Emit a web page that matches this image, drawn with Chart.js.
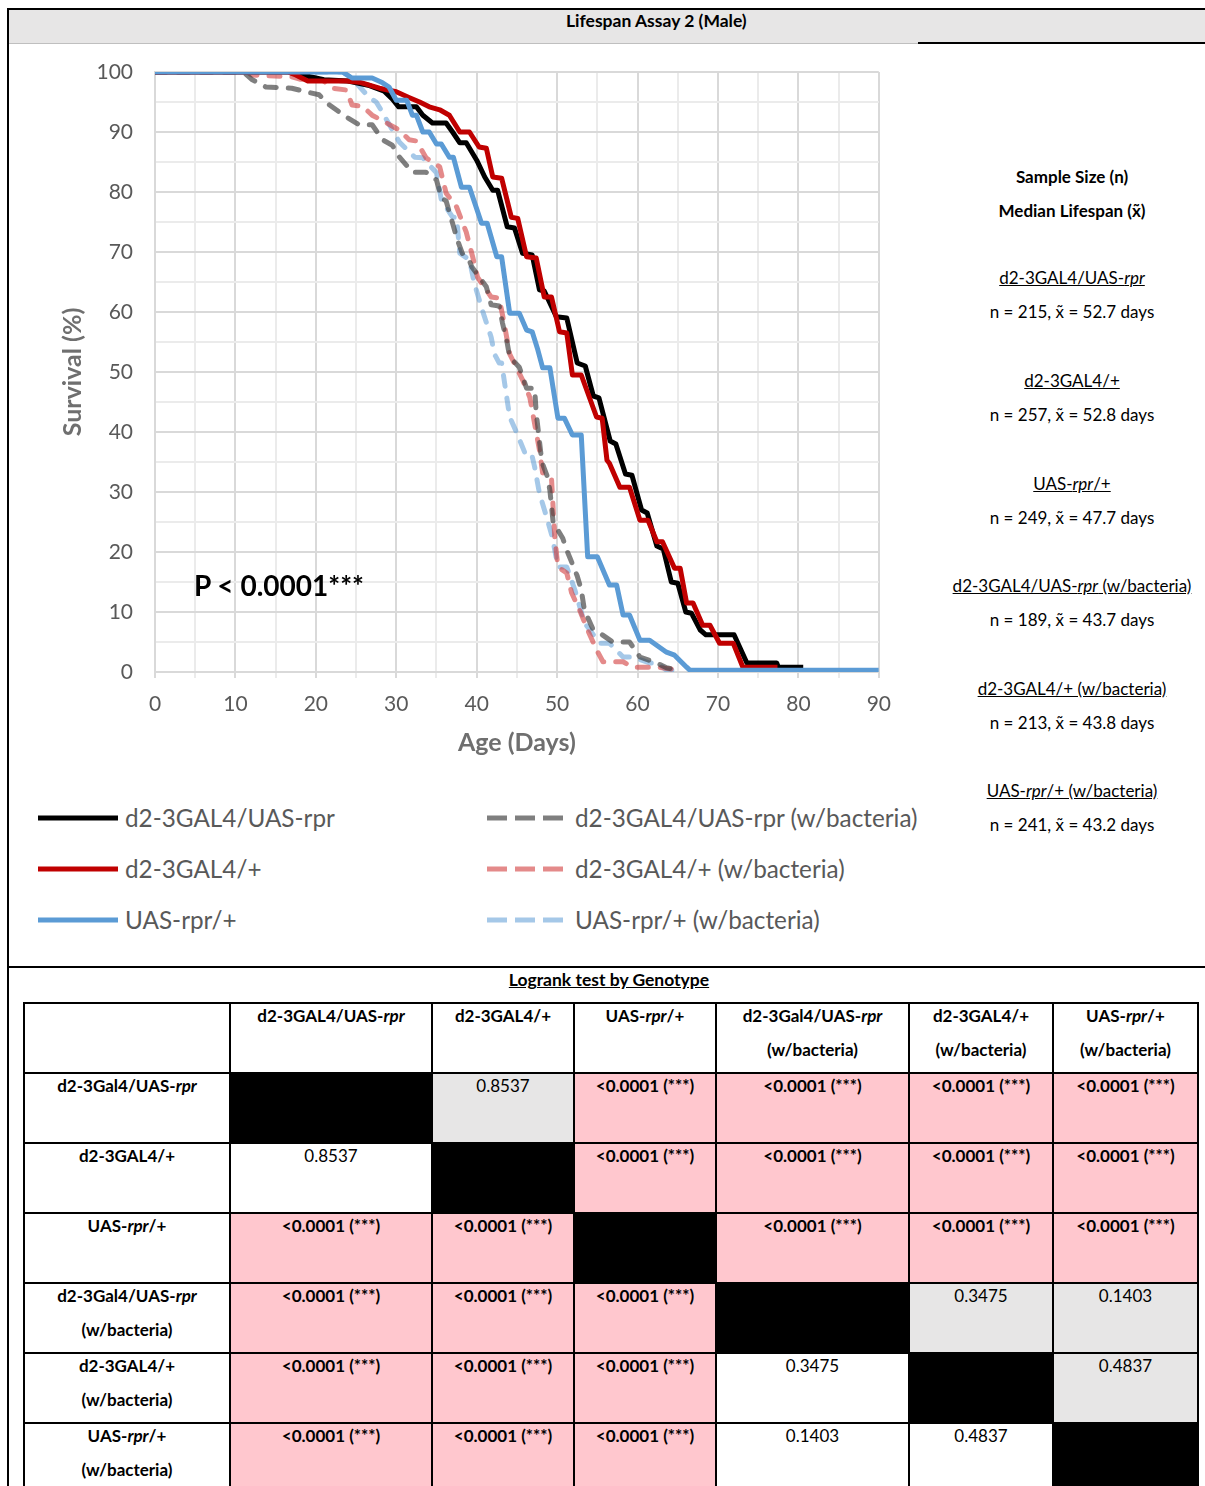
<!DOCTYPE html>
<html><head><meta charset="utf-8">
<script src="https://cdn.jsdelivr.net/npm/chart.js@4.4.1/dist/chart.umd.min.js"></script>
<style>
body{margin:0;width:1205px;height:1486px;overflow:hidden;background:#fff;font-family:Lato,'Open Sans',sans-serif;position:relative;color:#000}
.abs{position:absolute}
#band{left:8px;top:8px;width:1197px;height:35px;background:#e7e6e6;border-top:2px solid #000;box-sizing:border-box}
#bandTitle{left:566px;top:10px;font-weight:bold;font-size:17.5px;line-height:22px;white-space:nowrap}
.rtxt{width:260px;left:942px;text-align:center;font-size:17px;line-height:22px;white-space:nowrap}
.leg{font-size:24.3px;color:#595959;line-height:30px;white-space:nowrap}
table{border-collapse:collapse;table-layout:fixed;font-size:17px}
td{border:2px solid #000;height:68px;vertical-align:top;text-align:center;padding:0;line-height:34px}
td div{margin-top:-5px}
.sig{background:#ffc7ce;font-weight:bold}
.ns{background:#e7e6e6}
.diag{background:#000}
.hd{font-weight:bold}
</style></head><body>
<div id="band" class="abs"></div>
<div id="bandTitle" class="abs">Lifespan Assay 2 (Male)</div>
<div class="abs" style="left:8px;top:43px;width:910px;height:1px;background:#bfbfbf"></div>
<div class="abs" style="left:918px;top:42px;width:287px;height:2px;background:#000"></div>
<div class="abs" style="left:7px;top:8px;width:2px;height:1478px;background:#000"></div>
<div class="abs" style="left:8px;top:966px;width:1197px;height:2px;background:#000"></div>

<div class="abs" style="left:0;top:0;width:905px;height:770px"><canvas id="c" width="905" height="770" style="width:905px;height:770px"></canvas></div>
<div class="abs" style="left:194px;top:567px;font-size:28px;font-weight:bold;line-height:36px;white-space:nowrap">P &lt; 0.0001***</div>

<div id="legend"></div>
<div id="rightPanel"></div>
<div class="abs hd" style="left:0;width:1218px;top:969px;text-align:center;font-size:17.5px;line-height:22px;text-decoration:underline">Logrank test by Genotype</div>
<table id="tbl" class="abs" style="left:23px;top:1002px"></table>

<script>
// ---------- DATA ----------
const seriesNames = ["d2-3GAL4/UAS-rpr", "d2-3GAL4/+", "UAS-rpr/+", "d2-3GAL4/UAS-rpr (w/bacteria)", "d2-3GAL4/+ (w/bacteria)", "UAS-rpr/+ (w/bacteria)"];
const sampleSizes = [215, 257, 249, 189, 213, 241];
const medianLifespans = [52.7, 52.8, 47.7, 43.7, 43.8, 43.2];
const xTicks = [0, 10, 20, 30, 40, 50, 60, 70, 80, 90];
const yTicks = [0, 10, 20, 30, 40, 50, 60, 70, 80, 90, 100];

// survival (%) vs age (days)
const survGal4Rpr = [[0,100],[17.5,100],[19,99.3],[21,98.7],[24,98.5],[26.5,97.8],[28.5,96.8],[29.5,95.5],[30.3,94.2],[32.5,94.2],[33.3,92.8],[34.5,91.5],[36.2,91.5],[37,90],[37.9,88.2],[38.7,88.2],[40,85.3],[41,82.5],[42,80.3],[42.6,80.3],[43.8,74.2],[44.7,74],[45.7,69.8],[46.9,69.5],[47.8,63.7],[48.4,63.5],[49.9,59.2],[51.2,59],[52.5,51.5],[53.5,51],[54.5,46],[55.2,45.7],[56.6,38.5],[57.3,38],[58.5,33],[59.3,32.8],[60.5,27],[61.2,26.5],[62.4,21],[63.2,20.5],[64.2,15],[65,14.8],[66,10],[66.7,9.8],[67.8,7],[68.5,6.2],[72,6.2],[73.6,1.5],[77.3,1.5],[77.5,0.8],[80.6,0.8]];
const survGal4 = [[0,100],[16.5,100],[17.5,99.5],[19,98.5],[23.8,98.5],[25.4,98.3],[27.9,97.3],[30,96.7],[31.5,95.8],[32.9,95],[34.1,94.2],[35.4,93.7],[36.6,92.8],[37.9,90],[39.1,90],[40.3,87.5],[41.2,87.3],[42,82.5],[43.1,82.3],[44.3,75.8],[45.1,75.6],[46.2,69.2],[47.4,69],[48.4,62.5],[49.3,62.5],[50.3,56.7],[51.2,56.5],[51.9,49.5],[53,49.5],[54.9,42.5],[55.6,42.3],[56.2,35.3],[56.5,34.8],[57.8,30.8],[59,30.8],[60.3,25.3],[61.3,25.3],[62.4,21.7],[63.1,21.7],[64.6,17.3],[65.3,17.3],[66.1,11.5],[66.9,11.5],[68.1,7.8],[69,7.8],[70.2,4.8],[71.9,4.8],[73.1,0.8],[77.4,0.8]];
const survRpr = [[0,100],[23.3,100],[24.5,99],[27,99],[28.3,98.2],[29.1,97.5],[30,95.3],[31.3,95.3],[32,92.8],[32.5,92.8],[33.3,90],[34.1,90],[35,88],[35.6,88],[36.6,85.8],[37.1,85.8],[38.1,80.8],[39.1,80.8],[40.6,74.8],[41.3,74.8],[42.5,69.2],[43.1,69.2],[44.1,59.8],[45.3,59.8],[46.2,57],[46.9,56.7],[47.6,53.7],[48.2,50.7],[49.1,50.7],[50.1,42.3],[50.9,42.3],[51.9,39.5],[53,39.5],[53.8,19.2],[55,19.2],[56.5,14.5],[57.4,14.5],[58.2,9.5],[59,9.5],[60.3,5.3],[61.5,5.3],[63.6,3.3],[64.6,2.8],[66.1,0.8],[66.5,0.3],[90,0.3]];
const survGal4RprBact = [[0,100],[11,100],[12.1,98.7],[13.8,97.5],[17,97.3],[18.8,96.7],[20.4,96.2],[21.7,94.5],[23.8,92.5],[25.4,91.2],[27,91.2],[28.3,88.7],[29.5,87.8],[30.4,85.8],[32,83.3],[33.7,83.3],[35,82],[35.6,79],[36.2,78.5],[37.6,72],[38.2,69.8],[39.1,68.5],[39.4,67.5],[41.2,64.2],[41.8,61.2],[42.8,61],[43.2,58.2],[43.8,54.8],[44.1,52.5],[45.3,50.8],[46.2,47.3],[47.2,47.3],[47.4,43.2],[48.1,35],[48.8,32.5],[49.1,30.3],[49.5,25],[50.7,22.3],[51.2,20.3],[51.6,19],[52.5,16],[53,13.7],[53.4,10.3],[54.4,7.3],[55.3,6.5],[56.9,5],[59,5],[60.3,2.5],[62.4,1.5],[63.6,0.7],[65.3,0.3]];
const survGal4Bact = [[0,100],[11.5,100],[12,99.5],[17,99.2],[18,98.8],[20.8,98.7],[22,97.3],[23.8,97],[24.5,94.5],[25.8,94.3],[27,92.8],[28.8,91.5],[30.4,90.3],[31.6,88.7],[32.5,88.5],[33.7,85.7],[35.4,84.2],[36.2,79.8],[37.5,77.5],[38.7,73.3],[39.5,69.2],[40.1,65.8],[41.8,62.5],[42.8,62.3],[43.5,57.5],[44.1,53],[45.7,48.7],[46.6,45.8],[47.8,37],[48.2,33.2],[49.3,32.3],[49.7,22.5],[50.1,17.5],[51.2,16.5],[51.8,13.2],[52.8,10.3],[53.8,7],[54.9,3.7],[55.7,1.7],[58.2,1.7],[59.4,0.8],[62.4,0.8],[65.3,0.3]];
const survRprBact = [[0,100],[23.3,100],[24.5,99],[25,98.2],[26.6,95.8],[27.5,95],[28.5,92.8],[28.8,92],[30.4,88.3],[32.3,85.8],[33.3,85.7],[34.1,84.5],[35,83.2],[35.6,78.7],[37,75.8],[37.5,75.8],[37.9,69.8],[39.1,68.7],[39.7,64.8],[40.7,60.3],[41.8,55.8],[42.2,53],[42.8,51.5],[43.1,51.5],[44.1,42.5],[45,39.8],[46,36.5],[46.8,36.5],[47.2,34.2],[47.8,29.8],[48.7,25.8],[49.4,22.5],[50.1,17.5],[51.2,17.5],[52.2,13.7],[53.4,8.2],[55.3,4.8],[56.5,4.8],[58.2,2.5],[59.4,2.5],[61.5,1.5],[62.4,1.5],[63.6,0.3],[65.3,0.3]];

// logrank p-values (rows/cols in the same order as the series)
const rowLabels = ["d2-3Gal4/UAS-rpr", "d2-3GAL4/+", "UAS-rpr/+", "d2-3Gal4/UAS-rpr|(w/bacteria)", "d2-3GAL4/+|(w/bacteria)", "UAS-rpr/+|(w/bacteria)"];
const colLabels = ["d2-3GAL4/UAS-rpr", "d2-3GAL4/+", "UAS-rpr/+", "d2-3Gal4/UAS-rpr|(w/bacteria)", "d2-3GAL4/+|(w/bacteria)", "UAS-rpr/+|(w/bacteria)"];
const pValues = [
  [null, "0.8537", "<0.0001 (***)", "<0.0001 (***)", "<0.0001 (***)", "<0.0001 (***)"],
  ["0.8537", null, "<0.0001 (***)", "<0.0001 (***)", "<0.0001 (***)", "<0.0001 (***)"],
  ["<0.0001 (***)", "<0.0001 (***)", null, "<0.0001 (***)", "<0.0001 (***)", "<0.0001 (***)"],
  ["<0.0001 (***)", "<0.0001 (***)", "<0.0001 (***)", null, "0.3475", "0.1403"],
  ["<0.0001 (***)", "<0.0001 (***)", "<0.0001 (***)", "0.3475", null, "0.4837"],
  ["<0.0001 (***)", "<0.0001 (***)", "<0.0001 (***)", "0.1403", "0.4837", null]
];

// ---------- STYLES ----------
const seriesData = [survGal4Rpr, survGal4, survRpr, survGal4RprBact, survGal4Bact, survRprBact];
const seriesColors = ['#000000', '#c00000', '#5b9bd5', 'rgba(60,60,60,0.66)', 'rgba(210,60,60,0.6)', 'rgba(91,155,213,0.55)'];
const seriesDashed = [false, false, false, true, true, true];
const seriesOrder = [2, 1, 0, 3, 4, 5];

const datasets = seriesData.map((pts, i) => ({
  label: seriesNames[i],
  data: pts.map(p => ({x: p[0], y: p[1]})),
  borderColor: seriesColors[i],
  backgroundColor: seriesColors[i],
  borderWidth: 5,
  borderDash: seriesDashed[i] ? [11, 12] : [],
  borderCapStyle: seriesDashed[i] ? 'round' : 'butt',
  borderJoinStyle: 'round',
  pointRadius: 0,
  tension: 0,
  fill: false,
  order: seriesOrder[i]
}));

const tickFont = {family: 'Lato', size: 21};
const titleFont = {family: 'Lato', size: 25, weight: 'bold'};
const gridColor = c => (c.tick && c.tick.value % 10 === 0) ? '#d9d9d9' : '#ebebeb';

new Chart(document.getElementById('c'), {
  type: 'line',
  data: {datasets},
  options: {
    responsive: false,
    animation: false,
    events: [],
    layout: {padding: {left: 52, right: 26, top: 72, bottom: 0}},
    plugins: {legend: {display: false}, tooltip: {enabled: false}},
    scales: {
      x: {
        type: 'linear', min: 0, max: 90,
        afterBuildTicks: s => { const t = []; for (let v = 0; v <= 90; v += 5) t.push({value: v}); s.ticks = t; },
        afterFit: s => { s.height = 98; },
        ticks: {autoSkip: false, maxRotation: 0, color: '#595959', font: tickFont, padding: 14,
          callback: v => xTicks.includes(v) ? String(v) : ''},
        grid: {color: gridColor, lineWidth: 2, tickLength: 6, drawTicks: true},
        border: {color: '#d9d9d9', width: 2},
        title: {display: true, text: 'Age (Days)', color: '#6f6f6f', font: titleFont, padding: {top: 0, bottom: 12}}
      },
      y: {
        type: 'linear', min: 0, max: 100,
        afterBuildTicks: s => { const t = []; for (let v = 0; v <= 100; v += 5) t.push({value: v}); s.ticks = t; },
        afterFit: s => { s.width = 155 - 52; },
        ticks: {autoSkip: false, color: '#595959', font: tickFont, padding: 22,
          callback: v => yTicks.includes(v) ? String(v) : ''},
        grid: {color: gridColor, lineWidth: 2, drawTicks: false},
        border: {color: '#d9d9d9', width: 2},
        title: {display: true, text: 'Survival (%)', color: '#6f6f6f', font: titleFont, padding: {top: 6, bottom: 0}}
      }
    }
  }
});

// ---------- LEGEND ----------
const legRows = [818, 869, 920];
let legHtml = '';
seriesNames.forEach((name, i) => {
  const col = i < 3 ? 0 : 1, row = i % 3;
  const y = legRows[row];
  const x1 = col ? 487 : 38, x2 = col ? 563 : 118, tx = col ? 575 : 125;
  const dash = seriesDashed[i] ? 'stroke-dasharray="20 8"' : '';
  legHtml += `<svg class="abs" style="left:${x1}px;top:${y-5}px" width="${x2-x1}" height="10"><line x1="0" y1="5" x2="${x2-x1}" y2="5" stroke="${seriesColors[i]}" stroke-width="5" ${dash}/></svg>`;
  legHtml += `<div class="abs leg" style="left:${tx}px;top:${y-15}px">${name}</div>`;
});
document.getElementById('legend').innerHTML = legHtml;

// ---------- RIGHT PANEL ----------
const ital = s => s.replace(/rpr/g, '<i>rpr</i>');
let rp = `<div class="abs rtxt" style="top:166px;font-weight:bold">Sample Size (n)</div>`;
rp += `<div class="abs rtxt" style="top:200px;font-weight:bold">Median Lifespan (x&#771;)</div>`;
const blockTops = [278, 381, 484, 586, 689, 791];
seriesNames.forEach((name, i) => {
  rp += `<div class="abs rtxt" style="top:${blockTops[i]-11}px"><span style="text-decoration:underline">${ital(name)}</span></div>`;
  rp += `<div class="abs rtxt" style="top:${blockTops[i]+23}px">n = ${sampleSizes[i]}, x&#771; = ${medianLifespans[i]} days</div>`;
});
document.getElementById('rightPanel').innerHTML = rp;

// ---------- TABLE ----------
const colW = [206, 202, 142, 142, 193, 144, 145];
const lbl = s => s.split('|').map(ital).join('<br>');
let th = '<colgroup>' + colW.map(w => `<col style="width:${w}px">`).join('') + '</colgroup>';
th += '<tr><td></td>' + colLabels.map(c => `<td class="hd"><div>${lbl(c)}</div></td>`).join('') + '</tr>';
pValues.forEach((row, r) => {
  th += `<tr><td class="hd"><div>${lbl(rowLabels[r])}</div></td>`;
  row.forEach((v, c) => {
    if (v === null) th += '<td class="diag"></td>';
    else if (v.startsWith('<')) th += `<td class="sig"><div>${v.replace('<', '&lt;')}</div></td>`;
    else th += `<td class="${c > r ? 'ns' : ''}"><div>${v}</div></td>`;
  });
  th += '</tr>';
});
const tbl = document.getElementById('tbl');
tbl.innerHTML = th;
tbl.style.width = colW.reduce((a, b) => a + b, 0) + 'px';
</script>
</body></html>
